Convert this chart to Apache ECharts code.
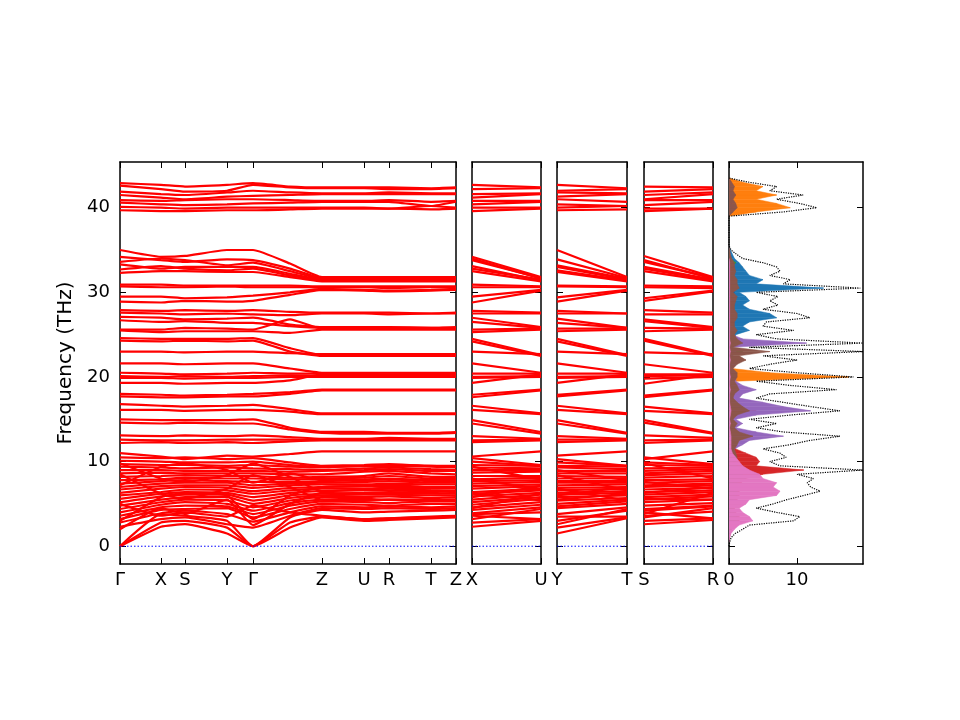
<!DOCTYPE html>
<html><head><meta charset="utf-8">
<script src="https://cdn.jsdelivr.net/npm/echarts@6/dist/echarts.min.js"></script>
<style>html,body{margin:0;padding:0;background:#fff}#c{width:960px;height:720px}</style>
</head><body><div id="c"></div><script>
// ---- k-path ----
const tickPos = [0,41,65,107,133,202,244,269,311,336];
const tickLabels = ['Γ','X','S','Y','Γ','Z','U','R','T','Z'];
// band sample positions: Γ X S Y Γ (mid Γ-Z) Z U R T Z
const bandPos = [0,41,65,107,133,170,202,244,269,311,336];
const sidePanels = [
  {labels:['X','U'], from:1, to:7},
  {labels:['Y','T'], from:3, to:9},
  {labels:['S','R'], from:2, to:8}
];
const yTicks = [0,10,20,30,40];

// ---- band frequencies (THz) ----
const bandsTop = [
[42.9,42.7,42.5,42.7,42.9,42.5,42.4,42.4,42.4,42.3,42.4],
[42.6,42.2,41.9,42.0,42.7,42.4,42.3,42.3,42.2,42.2,42.3],
[41.9,41.6,41.5,41.8,42.0,41.8,41.7,41.7,41.8,41.7,41.7],
[41.5,41.2,41.0,41.3,41.4,41.5,41.6,41.6,41.6,41.6,41.6],
[40.9,40.8,40.9,41.0,41.0,40.9,40.8,40.8,40.9,40.7,40.8],
[40.6,40.4,40.3,40.4,40.5,40.6,40.7,40.7,40.7,40.2,40.7],
[40.1,40.0,39.9,40.0,40.0,40.0,40.0,40.0,39.9,40.2,40.0],
[39.7,39.6,39.6,39.7,39.7,39.8,39.9,39.9,39.9,39.8,39.9]
];
const bandsUpper = [
[35.0,34.2,34.3,35.0,35.0,33.4,31.8,31.8,31.8,31.8,31.8],
[34.2,33.8,33.6,33.9,33.8,32.8,31.7,31.7,31.7,31.7,31.7],
[33.6,34.0,33.8,33.2,33.5,32.5,31.6,31.6,31.6,31.6,31.6],
[33.3,32.8,33.0,33.0,33.0,32.2,31.5,31.5,31.5,31.5,31.5],
[32.7,33.1,32.8,32.6,32.8,32.0,31.4,31.4,31.4,31.4,31.4],
[32.3,32.5,32.5,32.4,32.4,31.8,31.3,31.3,31.3,31.3,31.3],
[30.9,30.9,30.8,30.8,30.8,30.8,30.7,30.7,30.7,30.7,30.7],
[30.7,30.6,30.6,30.7,30.6,30.6,30.6,30.6,30.5,30.6,30.6],
[29.5,29.5,29.3,29.4,29.6,30.0,30.4,30.3,30.2,30.3,30.4],
[28.9,28.8,29.0,28.9,29.0,29.7,30.3,30.2,30.1,30.2,30.3],
[27.9,27.8,27.9,27.8,27.9,27.7,27.6,27.6,27.6,27.5,27.6],
[27.6,27.5,27.4,27.5,27.4,27.3,27.5,27.5,27.4,27.5,27.5],
[27.1,27.0,26.8,26.9,27.0,26.2,25.9,25.9,25.9,25.8,25.9],
[26.7,26.5,26.6,26.4,26.4,26.0,25.8,25.8,25.8,25.8,25.8],
[25.6,25.6,25.8,25.7,25.6,26.8,25.7,25.7,25.7,25.7,25.7],
[25.5,25.3,25.4,25.4,25.4,25.2,25.6,25.6,25.6,25.6,25.6]
];
const bandsMid = [
[24.6,24.5,24.5,24.5,24.6,23.4,22.6,22.6,22.6,22.6,22.6],
[24.3,24.2,24.3,24.2,24.3,23.0,22.5,22.5,22.5,22.5,22.5],
[23.0,23.0,22.9,23.0,23.0,22.8,22.7,22.7,22.7,22.7,22.7],
[21.6,21.6,21.5,21.6,21.6,21.0,20.5,20.5,20.5,20.5,20.5],
[20.5,20.4,20.3,20.4,20.5,20.4,20.4,20.4,20.3,20.4,20.4],
[20.1,20.0,20.1,20.0,20.1,20.2,20.1,20.1,20.2,20.1,20.1],
[19.9,19.9,19.8,19.9,19.9,20.0,20.0,20.0,20.0,20.0,20.0],
[19.3,19.3,19.2,19.3,19.3,19.6,20.3,20.3,20.3,20.3,20.3],
[18.0,17.9,17.8,17.9,18.0,18.2,18.5,18.5,18.5,18.5,18.5],
[17.7,17.6,17.6,17.7,17.7,18.0,18.4,18.4,18.4,18.4,18.4],
[16.8,16.6,16.5,16.6,16.7,16.2,15.7,15.7,15.7,15.7,15.7],
[16.1,16.1,16.0,16.1,16.1,15.9,15.6,15.6,15.6,15.6,15.6],
[15.0,14.9,14.9,14.9,15.0,14.0,13.5,13.5,13.4,13.4,13.5],
[14.6,14.5,14.6,14.5,14.5,13.8,13.4,13.3,13.3,13.3,13.4],
[13.1,13.0,13.1,13.0,13.1,12.9,12.7,12.7,12.8,12.7,12.7],
[12.6,12.5,12.5,12.6,12.6,12.6,12.6,12.6,12.6,12.6,12.6],
[12.2,12.3,12.2,12.3,12.2,12.4,12.5,12.5,12.5,12.5,12.5]
];
const bandsLow = [
[0,2.3,2.6,1.5,0,2.2,3.4,3.0,3.1,3.3,3.4],
[0,2.8,3.0,2.2,0,2.8,3.5,3.2,3.3,3.4,3.5],
[0,3.8,3.6,3.0,0,3.4,4.3,4.0,4.1,4.2,4.3],
[2.3,3.2,3.4,2.6,2.2,3.6,4.5,4.4,4.5,4.4,4.5],
[2.8,3.9,4.2,3.8,2.9,4.0,4.7,4.6,4.7,4.6,4.7],
[3.2,4.3,4.4,4.5,3.4,4.4,5.0,4.9,4.8,5.0,5.0],
[3.6,4.6,4.8,4.7,3.8,4.8,5.3,5.2,5.1,5.3,5.3],
[4.0,4.9,5.2,5.0,4.2,5.1,5.5,5.6,5.5,5.5,5.5],
[4.4,5.2,5.5,5.4,4.6,5.4,5.8,5.8,5.9,5.7,5.8],
[4.8,5.5,5.8,5.8,5.0,5.7,6.0,6.1,6.1,6.0,6.0],
[5.2,5.9,6.1,6.1,5.4,6.0,6.2,6.3,6.4,6.3,6.2],
[5.6,6.2,6.4,6.3,5.8,6.3,6.5,6.6,6.6,6.5,6.5],
[6.0,6.4,6.7,6.6,6.2,6.6,6.8,6.8,6.9,6.8,6.8],
[6.3,6.8,7.0,6.9,6.5,6.9,7.0,7.1,7.2,7.0,7.0],
[6.7,7.1,7.2,7.2,6.9,7.2,7.3,7.3,7.4,7.3,7.3],
[7.0,7.4,7.5,7.5,7.2,7.4,7.5,7.6,7.7,7.5,7.5],
[7.4,7.7,7.8,7.7,7.6,7.6,7.7,7.8,7.9,7.7,7.7],
[7.8,7.9,8.1,8.0,8.0,7.9,8.0,8.1,8.3,8.0,8.0],
[8.2,8.3,8.4,8.3,8.3,8.1,8.2,8.3,8.6,8.2,8.2],
[8.6,8.7,8.6,8.6,8.6,8.5,8.5,8.8,8.9,8.6,8.5],
[9.0,9.0,8.9,8.9,8.9,8.8,8.9,9.0,9.1,8.9,8.9],
[9.4,9.3,9.2,9.3,9.2,9.1,9.0,9.2,9.3,9.1,9.0],
[9.7,9.6,9.6,9.5,9.6,9.4,9.3,9.5,9.5,9.4,9.3],
[10.1,10.0,9.9,9.9,10.0,9.6,9.4,9.5,9.6,9.5,9.4],
[10.5,10.4,10.5,10.3,10.4,9.9,9.5,9.6,9.7,9.5,9.5],
[11.0,10.6,10.3,10.7,10.6,10.9,11.2,11.2,11.2,11.2,11.2],
[2.0,4.5,3.8,5.5,2.5,5.0,6.3,6.2,6.3,6.2,6.3],
[5.0,3.6,4.0,3.5,4.8,4.0,3.6,3.2,3.3,3.5,3.6],
[9.8,8.0,7.6,8.4,9.8,8.2,6.5,6.7,6.8,6.6,6.5],
[7.2,9.4,9.8,9.0,7.5,8.6,7.8,7.9,8.0,7.8,7.8],
[3.0,5.8,6.3,6.0,3.2,6.0,7.0,7.1,7.0,7.0,7.0],
[8.5,6.2,5.6,6.8,8.4,7.0,5.5,5.4,5.5,5.4,5.5]
];

// ---- density of states ----
const dosFreq = [0,0.5,1,1.5,2,2.5,3,3.5,4,4.5,5,5.5,6,6.5,7,7.5,8,8.5,9,9.5,
10,10.5,11,11.5,12,12.5,13,13.5,14,14.5,15,15.5,16,16.5,17,17.5,18,18.5,19,19.5,
20,20.5,21,21.5,22,22.5,23,23.5,24,24.5,25,25.5,26,26.5,27,27.5,28,28.5,29,29.5,
30,30.5,31,31.5,32,32.5,33,33.5,34,34.5,35,35.5,36,36.5,37,37.5,38,38.5,39,39.5,
40,40.5,41,41.5,42,42.5,43,43.5];
const dosTotal = [0,0.1,0.3,0.9,2.0,3.0,9.5,10.4,7.0,4.0,
6.5,8.5,11.0,13.4,12.0,11.5,12.4,10.0,19.7,7.5,
6.0,8.4,7.5,5.0,9.0,11.9,16.3,8.0,4.0,7.0,
3.0,9.0,16.3,12.0,8.0,4.0,6.0,15.8,9.0,4.0,
18.3,10.0,3.0,6.0,10.0,5.0,19.7,3.0,19.7,7.0,
4.0,9.5,5.0,5.5,11.9,10.0,5.0,7.2,6.0,7.2,
4.0,19.3,8.0,9.0,6.0,7.5,7.0,5.0,2.0,1.1,
0.3,0,0,0,0,0,0,0,0,8.0,
12.9,10.4,7.0,10.9,6.0,7.0,3.0,0];
const pdosBlue = [0,0,0,0,0.1,0.1,0.2,0.2,0.1,0.1,
0.1,0.2,0.2,0.2,0.2,0.2,0.2,0.2,0.3,0.2,
0.2,0.2,0.2,0.2,0.3,0.3,0.5,0.3,0.2,0.3,
0.2,0.3,0.5,0.4,0.3,0.2,0.3,0.5,0.3,0.2,
0.5,0.3,0.2,0.3,0.5,0.3,1.0,0.3,1.0,0.8,
1.0,3.0,2.0,3.0,7.0,6.0,3.0,2.0,3.0,2.5,
1.5,13.9,4.0,5.0,3.0,2.5,2.0,1.5,0.8,0.5,
0.2,0,0,0,0,0,0,0,0,0.5,
0.5,0.5,0.4,0.5,0.3,0.3,0.2,0];
const pdosOrange = [0,0,0,0,0,0,0.1,0.1,0.1,0.1,
0.1,0.1,0.1,0.1,0.1,0.1,0.1,0.1,0.2,0.1,
0.1,0.1,0.1,0.1,0.2,0.2,0.3,0.2,0.1,0.2,
0.1,0.2,0.3,0.3,0.2,0.1,0.2,0.3,0.5,1.0,
17.6,6.0,0.5,0.3,0.3,0.2,0.5,0.2,0.5,0.3,
0.2,0.3,0.2,0.2,0.3,0.3,0.2,0.2,0.2,0.2,
0.1,0.3,0.2,0.2,0.1,0.1,0.1,0.1,0.1,0,
0,0,0,0,0,0,0,0,0,4.0,
9.0,7.0,4.0,7.0,4.0,5.0,2.0,0];
const pdosGreen = [0,0,0,0,0,0,0.2,0.2,0.1,0.1,
0.2,0.2,0.3,0.3,0.3,0.3,0.4,0.5,1.2,0.3,
0.2,0.2,0.2,0.1,0.2,0.2,0.3,0.2,0.1,0.2,
0.1,0.2,0.3,0.3,0.2,0.1,0.2,0.4,0.3,0.2,
0.5,0.3,0.1,0.3,0.5,0.3,2.0,0.2,0.8,0.3,
0.2,0.4,0.2,0.3,0.5,0.4,0.2,0.3,0.3,0.4,
0.2,1.0,0.5,0.8,0.3,0.4,0.3,1.0,0.2,0.1,
0,0,0,0,0,0,0,0,0,0.1,
0.1,0.1,0.1,0.1,0.1,0.1,0,0];
const pdosRed = [0,0,0,0.1,0.3,0.5,1.5,1.5,1.0,0.8,
1.0,1.2,1.5,1.5,1.5,1.8,2.5,5.0,11.0,4.0,
4.5,4.0,2.5,1.0,0.8,0.8,1.0,0.5,0.3,0.5,
0.3,1.0,4.0,2.0,0.8,0.3,0.5,1.0,0.5,0.3,
0.5,0.5,0.2,0.3,0.8,0.3,0.8,0.2,0.5,0.3,
0.2,0.3,0.2,0.2,0.3,0.3,0.2,0.2,0.2,0.3,
0.2,0.5,0.3,0.3,0.2,0.2,0.2,0.2,0.1,0.1,
0,0,0,0,0,0,0,0,0,0.3,
0.5,0.4,0.3,0.4,0.3,0.3,0.2,0];
const pdosPurple = [0,0,0,0,0.1,0.2,0.5,0.5,0.3,0.3,
0.4,0.5,0.5,0.5,0.5,0.5,0.6,0.6,0.8,0.5,
0.5,0.6,0.6,0.8,2.0,3.0,8.0,4.0,1.0,2.0,
1.0,4.0,12.0,8.0,5.0,1.5,2.0,4.0,2.0,1.0,
1.0,1.0,0.5,1.0,1.0,0.5,1.0,0.5,11.4,2.0,
0.5,0.8,0.5,0.5,0.8,0.8,0.5,0.5,0.5,0.8,
0.5,1.0,0.8,0.8,0.5,0.5,0.5,0.5,0.2,0.2,
0,0,0,0,0,0,0,0,0,0.2,
0.3,0.3,0.2,0.3,0.2,0.2,0.1,0];
const pdosBrown = [0,0,0.1,0.2,0.4,0.6,1.2,1.2,0.8,0.6,
0.8,1.0,1.2,1.2,1.0,1.2,2.5,2.0,2.5,1.2,
1.0,1.2,1.0,0.8,1.2,1.5,3.5,1.5,0.8,1.2,
0.6,1.2,3.0,2.0,1.2,0.6,0.8,1.5,1.2,0.8,
1.2,1.2,0.6,1.2,2.5,1.5,6.0,0.6,2.0,1.2,
0.8,1.2,0.8,0.8,1.2,1.2,0.8,0.8,1.0,1.2,
0.6,1.5,1.2,1.2,0.8,1.0,0.8,0.8,0.4,0.2,
0.1,0,0,0,0,0,0,0,0,0.6,
1.2,1.0,0.6,1.0,0.6,0.8,0.4,0];
const pdosPink = [0,0,0.1,0.3,0.8,1.5,3.5,3.0,2.0,1.5,
2.5,3.0,7.0,7.5,6.5,7.0,5.0,4.5,3.0,2.0,
1.5,1.0,0.5,0.3,0.3,0.3,0.3,0.2,0.1,0.2,
0.1,0.2,0.3,0.2,0.1,0.1,0.1,0.2,0.1,0.1,
0.2,0.1,0.1,0.1,0.2,0.1,0.2,0.1,0.2,0.1,
0.1,0.1,0.1,0.1,0.1,0.1,0.1,0.1,0.1,0.1,
0.1,0.1,0.1,0.1,0.1,0.1,0.1,0.1,0,0,
0,0,0,0,0,0,0,0,0,0,
0,0,0,0,0,0,0,0];
const pdosList = [
  [pdosBlue,'#1f77b4'],[pdosOrange,'#ff7f0e'],[pdosGreen,'#2ca02c'],[pdosRed,'#d62728'],
  [pdosPurple,'#9467bd'],[pdosBrown,'#8c564b'],[pdosPink,'#e377c2']
];

// ---- layout ----
const Y_MIN = -2.1, Y_MAX = 45.4, DOS_MAX = 19.7;
const allBands = bandsTop.concat(bandsUpper, bandsMid, bandsLow);
const panels = [
  {left:120, width:336, xmin:0, xmax:336, ticks:tickPos, labels:tickLabels},
  {left:472, width:69, xmin:0, xmax:1, ticks:[0,1], labels:sidePanels[0].labels},
  {left:557, width:70, xmin:0, xmax:1, ticks:[0,1], labels:sidePanels[1].labels},
  {left:644, width:69, xmin:0, xmax:1, ticks:[0,1], labels:sidePanels[2].labels},
  {left:729, width:134, xmin:0, xmax:DOS_MAX, ticks:[0,10], labels:['0','10']}
];
const FONT = 'DejaVu Sans';
const grids=[], xAxes=[], yAxes=[], series=[];
const axisLine = {show:true, onZero:false, lineStyle:{color:'#000', width:1.5}};
function tick(vals){ return {show:true, inside:true, length:6, customValues:vals, lineStyle:{color:'#000', width:1}}; }
panels.forEach((p,i)=>{
  grids.push({left:p.left, width:p.width, top:162, height:402});
  const fmt = v => { const k = p.ticks.findIndex(t=>Math.abs(t-v)<1e-6); return k>=0 ? p.labels[k] : ''; };
  xAxes.push({gridIndex:i, type:'value', position:'bottom', min:p.xmin, max:p.xmax,
    axisLine, axisTick:tick(p.ticks), splitLine:{show:false},
    axisLabel:{show:true, customValues:p.ticks, formatter:fmt, margin:7, showMinLabel:true, showMaxLabel:true,
      fontFamily:FONT, fontSize:18, color:'#000'}});
  xAxes.push({gridIndex:i, type:'value', position:'top', min:p.xmin, max:p.xmax,
    axisLine, axisTick:tick(p.ticks), splitLine:{show:false}, axisLabel:{show:false}});
  yAxes.push({gridIndex:i, type:'value', position:'left', min:Y_MIN, max:Y_MAX,
    axisLine, axisTick:tick(yTicks), splitLine:{show:false},
    axisLabel: i===0 ? {show:true, customValues:yTicks, margin:10, fontFamily:FONT, fontSize:18, color:'#000'} : {show:false},
    name: i===0 ? 'Frequency (THz)' : '', nameLocation:'middle', nameGap:44,
    nameTextStyle:{fontFamily:FONT, fontSize:20, color:'#000'}});
  yAxes.push({gridIndex:i, type:'value', position:'right', min:Y_MIN, max:Y_MAX,
    axisLine, axisTick:tick(yTicks), splitLine:{show:false}, axisLabel:{show:false}});
});

const lineBase = {type:'line', symbol:'none', showSymbol:false, silent:true, animation:false};
// main path bands
allBands.forEach(b=>{
  series.push(Object.assign({}, lineBase, {xAxisIndex:0, yAxisIndex:0, smooth:0.15,
    data: bandPos.map((x,j)=>[x,b[j]]), lineStyle:{color:'#ff0000', width:2.2}}));
});
// side path bands
sidePanels.forEach((sp,k)=>{
  const i = k+1;
  allBands.forEach(b=>{
    series.push(Object.assign({}, lineBase, {xAxisIndex:2*i, yAxisIndex:2*i,
      data:[[0,b[sp.from]],[1,b[sp.to]]], lineStyle:{color:'#ff0000', width:2.2}}));
  });
});
// zero lines
for (let i=0;i<4;i++){
  series.push(Object.assign({}, lineBase, {xAxisIndex:2*i, yAxisIndex:2*i, z:5,
    data:[[panels[i].xmin,0],[panels[i].xmax,0]], lineStyle:{color:'#0000ff', width:1, type:[1.5,2]}}));
}
// partial DOS fills
pdosList.forEach(([arr,color])=>{
  const rows=[];
  for (let j=0;j<dosFreq.length-1;j++) rows.push([dosFreq[j],dosFreq[j+1],arr[j],arr[j+1]]);
  series.push({type:'custom', xAxisIndex:8, yAxisIndex:8, silent:true, animation:false, clip:true,
    encode:{x:[2,3], y:[0,1]}, data:rows,
    renderItem:(params, api)=>{
      const f0=api.value(0), f1=api.value(1), d0=api.value(2), d1=api.value(3);
      if (d0<=0 && d1<=0) return null;
      const pts=[api.coord([0,f0]), api.coord([d0,f0]), api.coord([d1,f1]), api.coord([0,f1])];
      return {type:'polygon', shape:{points:pts}, style:{fill:color, stroke:color, lineWidth:0.5}};
    }});
});
// total DOS
series.push(Object.assign({}, lineBase, {xAxisIndex:8, yAxisIndex:8, z:6,
  data: dosFreq.map((f,j)=>[dosTotal[j], f]), lineStyle:{color:'#000', width:1.2, type:'dotted'}}));

const chart = echarts.init(document.getElementById('c'), null, {renderer:'canvas'});
chart.setOption({animation:false, backgroundColor:'#fff', grid:grids, xAxis:xAxes, yAxis:yAxes, series});
</script></body></html>
